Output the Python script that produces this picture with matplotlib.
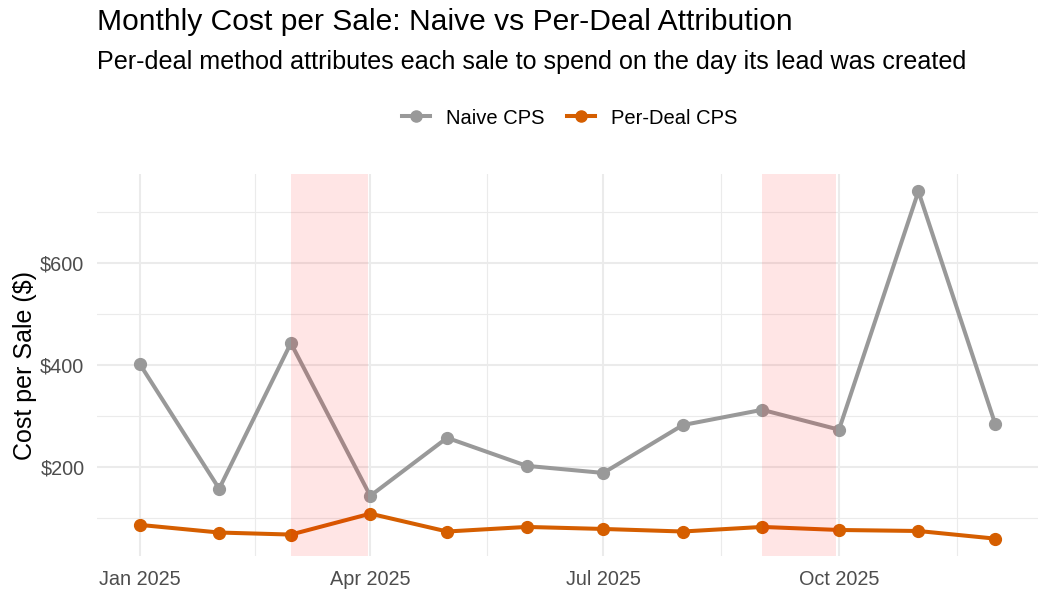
import pandas as pd
import matplotlib.pyplot as plt
import matplotlib.dates as mdates
from matplotlib.lines import Line2D
import numpy as np

plt.rcParams['font.family'] = ['Liberation Sans', 'DejaVu Sans']

# data
months = ['2025-01-01', '2025-02-01', '2025-03-01', '2025-04-01', '2025-05-01', '2025-06-01',
          '2025-07-01', '2025-08-01', '2025-09-01', '2025-10-01', '2025-11-01', '2025-12-01']
naive_cps = [402, 157, 443, 143, 257, 202, 188, 282, 312, 273, 741, 284]
perdeal_cps = [86, 71, 67, 108, 73, 82, 78, 73, 82, 76, 74, 59]
shade_start = ['2025-03-01', '2025-09-01']
shade_end = ['2025-03-31', '2025-09-30']

dates = pd.to_datetime(months)

fig = plt.figure(figsize=(10.5, 6), dpi=100)
ax = fig.add_axes([97 / 1050, 44 / 600, 941 / 1050, 382 / 600])

grey = '#999999'
orange = '#D55E00'

ax.plot(dates, naive_cps, color=grey, linewidth=2.9, marker='o', markersize=8.5, zorder=3)
ax.plot(dates, perdeal_cps, color=orange, linewidth=2.9, marker='o', markersize=8.5, zorder=3)

# highlighted months drawn on top of the lines, like the original
for s, e in zip(shade_start, shade_end):
    ax.axvspan(pd.Timestamp(s), pd.Timestamp(e), color='red', alpha=0.1, linewidth=0, zorder=4)

# limits with 5% expansion
span = dates.max() - dates.min()
ax.set_xlim(dates.min() - span * 0.05, dates.max() + span * 0.05)
allv = naive_cps + perdeal_cps
yr = max(allv) - min(allv)
ax.set_ylim(min(allv) - yr * 0.05, max(allv) + yr * 0.05)

major_x = pd.to_datetime(['2025-01-01', '2025-04-01', '2025-07-01', '2025-10-01'])
minor_x = [major_x[i] + (major_x[i + 1] - major_x[i]) / 2 for i in range(3)]
minor_x.append(major_x[3] + (major_x[3] - major_x[2]) / 2)
ax.set_xticks(major_x)
ax.set_xticks(minor_x, minor=True)
ax.xaxis.set_major_formatter(mdates.DateFormatter('%b %Y'))
ax.set_yticks([200, 400, 600])
ax.set_yticks([100, 300, 500, 700], minor=True)
ax.yaxis.set_major_formatter(plt.FuncFormatter(lambda v, p: f'${v:.0f}'))

ax.grid(True, which='major', color='#EBEBEB', linewidth=1.5, zorder=0)
ax.grid(True, which='minor', color='#EBEBEB', linewidth=0.8, zorder=0)
ax.set_axisbelow(True)
for sp in ax.spines.values():
    sp.set_visible(False)
ax.tick_params(which='both', length=0, labelsize=14.3, labelcolor='#4D4D4D')
ax.tick_params(axis='x', pad=10)
ax.tick_params(axis='y', pad=9)
ax.set_ylabel('Cost per Sale ($)', fontsize=18, labelpad=2)

fig.text(97 / 1050, 1 - 22 / 600, 'Monthly Cost per Sale: Naive vs Per-Deal Attribution',
         fontsize=21.6, va='center', ha='left')
fig.text(97 / 1050, 1 - 62 / 600, 'Per-deal method attributes each sale to spend on the day its lead was created',
         fontsize=18.05, va='center', ha='left')

handles = [Line2D([], [], color=grey, linewidth=2.9, marker='o', markersize=8),
           Line2D([], [], color=orange, linewidth=2.9, marker='o', markersize=8)]
fig.legend(handles, ['Naive CPS', 'Per-Deal CPS'], loc='center', bbox_to_anchor=(570 / 1050, 1 - 118 / 600),
           ncol=2, frameon=False, fontsize=14.5, handlelength=1.4, columnspacing=1.1, handletextpad=0.8)

plt.savefig('out.png', dpi=100)
